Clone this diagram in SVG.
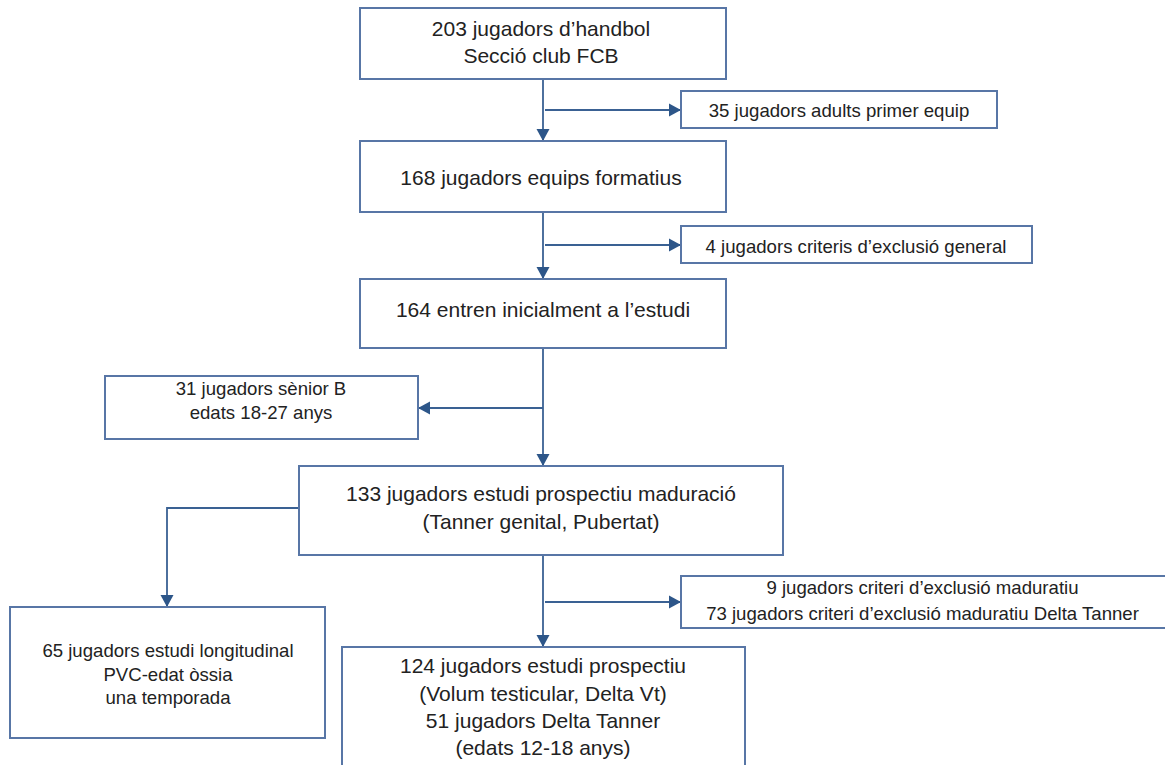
<svg xmlns="http://www.w3.org/2000/svg" width="1165" height="765" viewBox="0 0 1165 765">
<style>
.box{fill:#ffffff;stroke:#5876a6;stroke-width:2}
.t{font-family:"Liberation Sans",Arial,sans-serif;font-size:21px;fill:#222222;text-anchor:middle}
.s{font-family:"Liberation Sans",Arial,sans-serif;font-size:18.6px;fill:#222222;text-anchor:middle}
.c{fill:none;stroke:#3a6193;stroke-width:1.8}
</style>
<defs>
<marker id="ah" markerUnits="userSpaceOnUse" markerWidth="13" markerHeight="14" refX="12" refY="7" orient="auto">
<path d="M0,0.5 L12,7 L0,13.5 z" fill="#2d5689"/>
</marker>
</defs>
<rect width="1165" height="765" fill="#ffffff"/>
<g id="connectors">
<line class="c" x1="543" y1="79" x2="543" y2="141" marker-end="url(#ah)"/>
<line class="c" x1="545" y1="110" x2="681" y2="110" marker-end="url(#ah)"/>
<line class="c" x1="543" y1="212" x2="543" y2="279" marker-end="url(#ah)"/>
<line class="c" x1="545" y1="245" x2="681" y2="245" marker-end="url(#ah)"/>
<line class="c" x1="543" y1="348" x2="543" y2="466" marker-end="url(#ah)"/>
<line class="c" x1="543" y1="408" x2="418" y2="408" marker-end="url(#ah)"/>
<polyline class="c" points="299,508 167,508 167,607" marker-end="url(#ah)"/>
<line class="c" x1="543" y1="555" x2="543" y2="647" marker-end="url(#ah)"/>
<line class="c" x1="545" y1="602" x2="681" y2="602" marker-end="url(#ah)"/>
</g>
<g id="n1">
<rect class="box" x="360" y="8" width="366" height="71"/>
<text class="t" x="541" y="36">203 jugadors d’handbol</text>
<text class="t" x="541" y="62.5">Secció club FCB</text>
</g>
<g id="n2">
<rect class="box" x="681" y="91" width="316" height="37"/>
<text class="s" x="839" y="116.5">35 jugadors adults primer equip</text>
</g>
<g id="n3">
<rect class="box" x="360" y="141" width="366" height="71"/>
<text class="t" x="541" y="185">168 jugadors equips formatius</text>
</g>
<g id="n4">
<rect class="box" x="681" y="226" width="351" height="37"/>
<text class="s" x="856" y="252.5">4 jugadors criteris d’exclusió general</text>
</g>
<g id="n5">
<rect class="box" x="360" y="279" width="366" height="69"/>
<text class="t" x="543" y="316.5">164 entren inicialment a l’estudi</text>
</g>
<g id="n6">
<rect class="box" x="105" y="376" width="313" height="63"/>
<text class="s" x="261" y="395">31 jugadors sènior B</text>
<text class="s" x="261" y="418.5">edats 18-27 anys</text>
</g>
<g id="n7">
<rect class="box" x="299" y="466" width="484" height="89"/>
<text class="t" x="541" y="501">133 jugadors estudi prospectiu maduració</text>
<text class="t" x="541" y="529">(Tanner genital, Pubertat)</text>
</g>
<g id="n8">
<rect class="box" x="681" y="576" width="486" height="52"/>
<text class="s" x="922.5" y="593.5">9 jugadors criteri d’exclusió maduratiu</text>
<text class="s" x="922.5" y="620">73 jugadors criteri d’exclusió maduratiu Delta Tanner</text>
</g>
<g id="n9">
<rect class="box" x="10" y="607" width="315" height="131"/>
<text class="s" x="168" y="657">65 jugadors estudi longitudinal</text>
<text class="s" x="168" y="680.5">PVC-edat òssia</text>
<text class="s" x="168" y="704">una temporada</text>
</g>
<g id="n10">
<rect class="box" x="342" y="647" width="403" height="130"/>
<text class="t" x="543" y="672.5">124 jugadors estudi prospectiu</text>
<text class="t" x="543" y="700.5">(Volum testicular, Delta Vt)</text>
<text class="t" x="543" y="728">51 jugadors Delta Tanner</text>
<text class="t" x="543" y="755">(edats 12-18 anys)</text>
</g>
</svg>
